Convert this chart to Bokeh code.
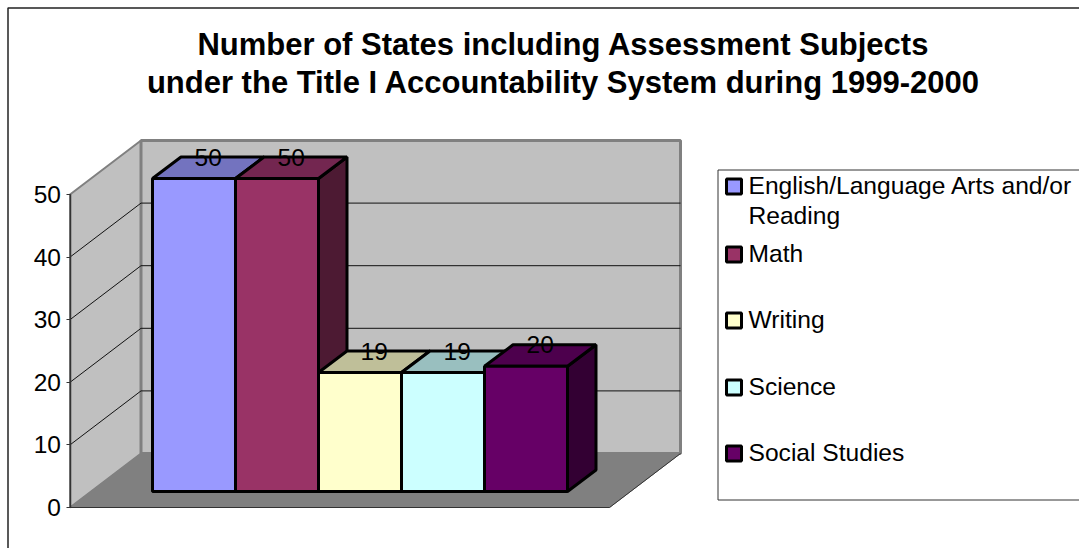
from bokeh.embed import file_html
from bokeh.models import FixedTicker, LinearAxis, Range1d
from bokeh.plotting import figure
from bokeh.resources import INLINE
from bokeh.core.properties import value

# Chart content
TITLE_LINES = ["Number of States including Assessment Subjects",
               "under the Title I Accountability System during 1999-2000"]
SUBJECTS = ["English/Language Arts and/or\nReading", "Math", "Writing", "Science", "Social Studies"]
STATES = [50, 50, 19, 19, 20]
FRONT_COLORS = ["#9999FF", "#993366", "#FFFFCC", "#CCFFFF", "#660066"]
TOP_COLORS = ["#7373BF", "#732650", "#BFBF99", "#99BFBF", "#4D004D"]
SIDE_COLORS = ["#4D4D80", "#4D1A33", "#808066", "#668080", "#330033"]
AXIS_TICKS = [0, 10, 20, 30, 40, 50]

W, H = 1079, 548
FONT = "Liberation Sans"

# Layout of the pseudo-3D box, in pixels
AXIS_X, AXIS_Y0, PX_PER_STATE = 69.5, 507.0, 6.26
BOX_DX, BOX_DY = 71.0, 54.0
BOX_RIGHT = 609.0
BAR_LEFT, BAR_W, BAR_BASE = 152.0, 83.0, 491.0
BAR_DX, BAR_DY = 28.5, 21.5


def X(px):
    return (px - BAR_LEFT) / BAR_W


def Y(py):
    return (AXIS_Y0 - py) / PX_PER_STATE


p = figure(width=W, height=H, output_backend="svg", toolbar_location=None,
           x_range=Range1d(X(0), X(W)), y_range=Range1d(Y(H), Y(0)),
           x_axis_type=None, y_axis_type=None,
           min_border=0, min_border_left=0, min_border_right=0,
           min_border_top=0, min_border_bottom=0, outline_line_color=None)
p.grid.visible = False

dx, dy = BOX_DX / BAR_W, BOX_DY / PX_PER_STATE
ax = X(AXIS_X)
rx = X(BOX_RIGHT)
top = max(AXIS_TICKS)

# Outer chart border (open at the bottom and on the right)
p.line([X(W), X(7.5), X(7.5)], [Y(7.5), Y(7.5), Y(H)], line_color="#222222", line_width=1.5)

# Side wall, back wall and floor
p.patch([ax, ax + dx, ax + dx, ax], [0, dy, top + dy, top], fill_color="#C0C0C0", line_color="#808080", line_width=2)
p.patch([ax + dx, rx + dx, rx + dx, ax + dx], [dy, dy, top + dy, top + dy], fill_color="#C0C0C0", line_color="#808080", line_width=3)
p.patch([ax, rx, rx + dx, ax + dx], [0, 0, dy, dy], fill_color="#808080", line_color="#808080", line_width=1)
p.line([rx, rx + dx], [0, dy], line_color="#333333", line_width=1)
p.line([ax, rx], [0, 0], line_color="#333333", line_width=1)

# Gridlines across both walls
for t in AXIS_TICKS[1:-1]:
    p.line([ax, ax + dx, rx + dx], [t, t + dy, t + dy], line_color="#111111", line_width=1)

# Bars, left to right so each front face hides the side face of the bar before it
bdx, bdy = BAR_DX / BAR_W, BAR_DY / PX_PER_STATE
base = Y(BAR_BASE)
for i, count in enumerate(STATES):
    v = base + count
    p.patch([i + 1, i + 1 + bdx, i + 1 + bdx, i + 1], [base, base + bdy, v + bdy, v],
            fill_color=SIDE_COLORS[i], line_color="black", line_width=3)
    p.patch([i, i + bdx, i + 1 + bdx, i + 1], [v, v + bdy, v + bdy, v],
            fill_color=TOP_COLORS[i], line_color="black", line_width=3)
    p.quad(left=[i], right=[i + 1], bottom=[base], top=[v],
           fill_color=FRONT_COLORS[i], line_color="black", line_width=3)

# Value labels sit on the back edge of each bar's top, above every bar
for i, count in enumerate(STATES):
    p.text([i + 0.5 + bdx / 2], [base + count + bdy], text=[str(count)], text_font=value(FONT),
           text_font_size="24.5px", text_align="center", text_baseline="middle", text_color="black")

# Vertical axis along the front of the side wall
axis = LinearAxis(fixed_location=ax, bounds=(0, top), ticker=FixedTicker(ticks=AXIS_TICKS))
axis.axis_line_color = "#333333"
axis.axis_line_width = 1.5
axis.major_tick_line_color = "#333333"
axis.major_tick_in = 0
axis.major_tick_out = 4
axis.minor_tick_line_color = None
axis.major_label_text_font = FONT
axis.major_label_text_font_size = "24.5px"
axis.major_label_text_color = "black"
axis.major_label_standoff = 5
p.add_layout(axis, "left")

# Title
for line, py in zip(TITLE_LINES, [44, 82]):
    p.text([X(563)], [Y(py)], text=[line], text_font=value(FONT), text_font_style="bold",
           text_font_size="31px", text_align="center", text_baseline="middle", text_color="black")

# Legend box and entries
p.line([X(W), X(717.5), X(717.5), X(W)], [Y(169.5), Y(169.5), Y(499.5), Y(499.5)],
       line_color="#333333", line_width=1)
LEGEND_ROWS = [186, 254, 320, 387, 453]
for name, color, row in zip(SUBJECTS, FRONT_COLORS, LEGEND_ROWS):
    p.quad(left=[X(726)], right=[X(741)], bottom=[Y(row + 7.5)], top=[Y(row - 7.5)],
           fill_color=color, line_color="black", line_width=3)
    for k, part in enumerate(name.split("\n")):
        p.text([X(748)], [Y(row + k * 30 - 1)], text=[part], text_font=value(FONT),
               text_font_size="24.6px", text_align="left", text_baseline="middle", text_color="black")

open("out.html", "w").write(file_html(p, INLINE))
